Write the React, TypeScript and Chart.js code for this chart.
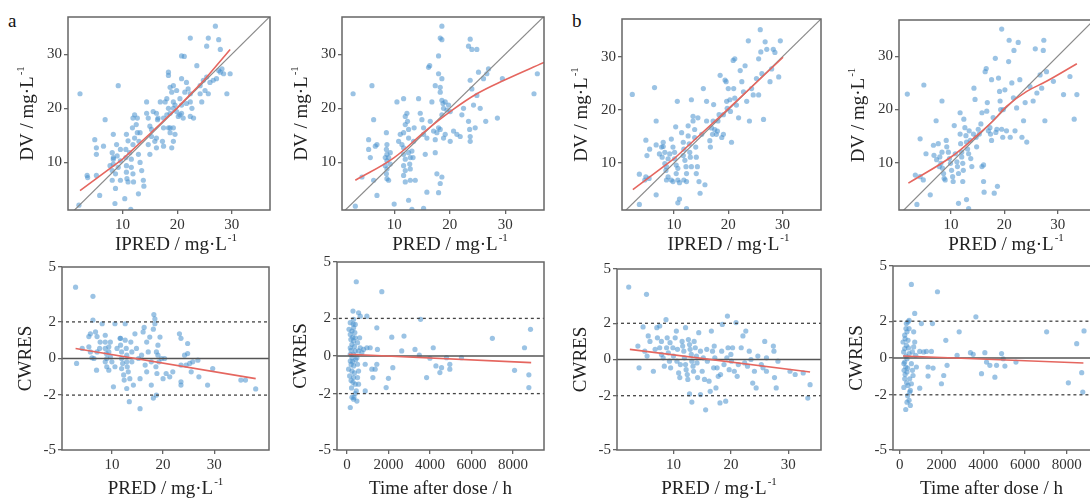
import React, { useEffect, useRef } from "react";
import { Chart, registerables } from "chart.js";
Chart.register(...registerables);

type P = [number, number];

// ---------- data ----------
const a1Pts: P[] = [
  [2.2,22.7],[2.0,2.1],[3.5,7.6],[3.6,7.2],[5.2,7.6],[5.8,3.9],[4.9,14.2],[5.2,12.7],[5.2,11.5],[6.8,17.9],[6.5,13.0],[7.7,9.4],[8.3,10.6],[9.2,24.2],[8.3,15.2],
  [8.1,11.8],[8.3,10.9],[8.3,9.7],[8.1,8.5],[8.7,7.9],[8.1,6.7],[8.7,5.2],[9.6,6.7],[9.2,9.1],[9.6,10.3],[9.0,11.2],[8.9,13.3],[9.6,12.4],[8.6,2.4],[10.4,3.3],
  [10.7,15.2],[11.0,14.0],[10.6,12.4],[10.6,10.9],[10.7,9.4],[10.7,8.2],[10.8,7.0],[11.0,6.4],[11.3,11.8],[11.6,10.6],[11.6,9.1],[11.9,7.9],[12.0,6.4],[11.9,13.3],[12.2,14.5],[11.8,16.4],[11.9,18.2],[12.2,18.8],[12.5,17.0],[12.7,15.5],[13.0,13.9],[12.9,11.5],[13.2,10.0],[13.5,8.5],[13.8,6.7],[12.7,18.2],[13.2,15.5],[11.5,1.3],[12.9,4.2],[13.9,5.6],
  [14.4,21.2],[14.4,19.1],[14.7,18.2],[15.0,16.7],[15.3,16.1],[15.3,14.8],[14.7,13.3],[15.0,11.5],[15.9,13.9],[16.2,14.5],[16.2,12.7],[16.2,19.1],[16.4,17.9],[15.6,19.4],[16.5,18.2],[16.9,21.2],[17.5,16.4],[17.5,18.2],[18.1,18.8],[18.4,20.0],[18.4,16.4],[18.7,16.4],[18.7,15.5],[19.3,16.4],[19.6,15.2],[19.3,13.9],[19.0,12.7],[17.3,13.9],[17.5,13.0],[18.1,21.8],[17.8,21.2],[18.4,26.7],[18.4,26.1],[19.3,24.2],[18.7,23.9],[19.9,23.3],[19.0,23.0],[19.3,21.2],[19.3,20.0],[19.9,19.4],[19.6,20.6],[20.2,18.5],[18.7,19.1],
  [20.5,18.8],[20.8,20.6],[20.5,21.8],[20.8,25.5],[20.8,29.7],[21.3,29.6],[21.7,24.8],[22.0,23.6],[22.4,22.7],[22.4,21.2],[22.7,20.0],[22.4,18.5],[23.0,18.2],[21.4,23.0],[21.7,20.9],[20.8,19.1],[24.2,24.2],[24.8,25.2],[25.4,25.8],[24.2,22.7],[24.5,21.2],[22.4,33.0],[23.6,27.9],[26.0,24.8],[25.1,23.3],[27.2,25.5],[26.6,25.2],[25.7,33.0],[25.4,31.5],[27.6,32.7],[27.9,30.9],[27.9,26.7],[28.2,27.3],[28.5,26.4],[27.6,27.0],[29.7,26.4],[27.0,35.2],[25.7,22.7],[29.1,22.7],[21.1,18.2]
];
const a1Red: P[] = [[2.2,4.8],[10,10.6],[15,15.3],[20,20.1],[25,25.3],[29.7,30.9]];

const a2Pts: P[] = [
  [2.6,22.7],[3.0,1.9],[4.2,7.3],[5.4,14.2],[5.4,12.4],[5.7,10.9],[6.0,24.2],[6.3,17.9],[6.6,13.0],[6.9,13.3],[6.9,3.9],[6.3,6.7],
  [8.6,15.5],[8.7,13.3],[8.6,12.4],[8.7,11.5],[8.4,10.9],[8.7,10.3],[8.4,9.4],[8.7,8.8],[8.6,7.9],[8.7,7.0],[9.0,6.7],[9.0,10.9],[9.3,11.8],[9.3,9.7],
  [10.0,2.3],[10.5,21.2],[10.8,13.9],[11.1,15.2],[11.4,13.3],
  [11.7,21.8],[12.0,18.5],[12.0,17.0],[11.7,15.5],[11.7,12.7],[11.7,11.5],[12.0,10.6],[11.7,9.4],[12.0,8.5],[11.7,7.6],[12.0,6.4],[12.3,19.1],[12.4,17.6],[12.6,16.1],[12.6,14.5],[12.6,11.8],[12.9,10.9],[12.8,9.7],[12.9,8.8],[12.9,6.7],[13.2,12.1],[13.4,10.9],[13.5,13.9],[13.6,16.4],[13.8,6.7],[12.6,3.0],[13.2,1.3],[15.3,1.5],
  [14.4,21.8],[14.7,19.1],[15.0,17.9],[15.3,15.2],[15.6,11.5],[15.3,16.4],[15.9,14.5],[15.9,4.5],[16.2,27.6],[16.4,27.9],[16.5,17.6],[16.8,21.2],[17.1,15.8],[17.4,14.2],[17.4,11.8],[17.7,7.9],[18.0,4.4],[17.4,24.2],
  [18.0,29.7],[18.3,33.0],[18.6,32.7],[18.6,35.2],[18.0,26.4],[18.6,25.5],[18.3,23.9],[18.3,23.0],[18.0,16.4],[17.7,15.5],[18.3,16.1],[18.6,21.5],[18.8,20.9],[18.9,20.0],[18.6,18.8],[18.3,6.1],[18.6,7.3],[18.9,14.5],[19.2,15.2],[19.5,19.7],[19.8,20.6],[20.1,19.4],[19.2,21.2],[20.1,13.9],
  [20.7,15.8],[21.3,15.2],[21.9,14.8],[22.2,18.8],[22.5,20.0],
  [23.4,17.6],[23.6,16.1],[23.7,14.8],[23.7,13.9],[24.0,23.6],[23.7,25.2],[23.4,31.5],[23.7,32.8],[24.0,30.9],[24.9,30.9],[24.3,20.6],[24.9,22.4],[25.2,26.7],[24.6,16.4],[25.5,20.0],[26.1,25.5],[26.7,26.4],[26.5,17.6],[27.0,27.3],[28.6,18.2],[29.5,25.5],[35.2,22.7],[35.8,26.4]
];
const a2Red: P[] = [[3.0,6.7],[10,10.9],[15.6,15.8],[20.1,19.4],[24.9,22.7],[29.8,25.2],[37,28.5]];

const a3Pts: P[] = [
  [2.9,3.9],[3.1,-0.27],[4.2,0.55],[5.5,0.64],[5.5,1.2],[5.8,1.35],[6.3,3.4],[6.3,2.1],[6.8,1.45],[7.1,1.2],[5.8,0.36],[6.5,0],[7.0,-0.64],[6.1,0.04],[7.1,0.36],[7.7,0.9],[8.1,1.9],[7.6,0.55],
  [8.7,1.27],[8.7,0.9],[8.7,0.55],[8.9,0.27],[9.0,0],[8.7,-0.18],[9.0,-0.45],[9.4,0.64],[9.4,0.36],[9.7,0.9],[9.7,0.09],[10,-0.18],[9.4,-0.64],[10.3,-1.55],[10.6,1.9],[11,0.55],[10.6,-0.45],
  [11.6,1.1],[11.7,0.73],[11.9,0.36],[11.9,0],[12.1,-0.27],[11.9,-0.55],[12.3,-0.9],[12.4,-1.18],[11.7,1.1],[12.6,1.0],[12.8,0.55],[12.9,0.18],[12.9,-0.18],[13.0,-0.45],[13.2,-0.73],[12.6,1.9],[12.9,-1.64],[13.4,-2.36],[13.5,-1.1],[13.9,0.36],[13.9,-0.18],[13.7,0.9],[14.2,-1.45],
  [14.5,1.35],[14.8,0.55],[15.2,0],[15.5,-1.1],[15.5,-2.74],[15.8,0.18],[16.1,1.45],[16.3,1.7],[16.8,0.9],[16.5,-0.36],[16.8,-0.73],[17.1,0.36],[17.4,1.17],[17.7,-0.18],[17.7,-1.45],[18.1,-2.16],[18.1,1.6],[18.2,2.4],[18.4,2.16],[18.4,1.9],[18.6,-0.45],[18.7,0.36],[18.8,-0.82],[19.0,0.18],[19.0,0.73],[18.7,-2.0],[19.2,-0.18],[19.4,1.17],[19.7,0],[20,-1.1],[20.3,0],[20.6,-0.82],[21.3,-1.0],[21.9,-0.73],
  [23.2,1.35],[23.5,1.1],[23.5,-0.36],[23.5,-1.27],[23.5,-1.45],[24.2,0.18],[24.5,-0.36],[24.8,0.82],[24.8,0.27],[25.2,-0.27],[25.5,-0.73],[25.8,-0.18],[26.8,-0.09],[27.0,-1.0],[28.7,-1.45],[29.7,-0.55],[35.2,-1.18],[36.1,-1.18],[38.1,-1.66]
];
const a3Red: P[] = [[2.9,0.55],[38.1,-1.1]];

const a4Pts: P[] = [
  [160,-2.74],[240,-2.2],[320,-2.3],[400,-2.0],[480,-2.4],[290,-1.4],[400,-1.5],[320,-1.15],[240,-0.8],[320,-0.53],[160,-0.27],[240,-0.09],[320,0.09],[400,0.27],[160,0.44],[240,0.62],[320,0.8],[400,0.97],[160,1.15],[240,1.33],[320,1.5],[400,1.68],[160,1.77],[320,1.95],[290,2.39],[450,3.95],[560,2.3],[640,2.12],[480,-0.09],[510,-0.44],[560,0.27],[510,0.71],[610,0.97],[640,0.44],[720,0.18],[560,-0.8],[510,-1.15],[560,-1.5],[450,-1.86],[80,-0.7],[130,-1.06],[160,0.09],[190,0.88],[100,1.42],
  [200,-0.45],[280,-0.3],[360,0.5],[200,0.3],[280,1.0],[360,-0.9],[420,-0.2],[200,-1.3],[300,1.7],[380,1.25],[220,-1.7],[340,-2.2],
  [800,0.35],[880,-0.44],[960,2.12],[960,0.44],[880,-1.86],[1120,0.44],[1200,-0.7],[1250,-1.15],[1360,-0.7],[1440,1.5],[1470,0.35],[1440,-0.44],[1680,3.42],[1890,-1.68],[2000,-1.19],[2160,1.0],[2210,-0.62],[2640,0.27],[2750,1.06],[3280,0.35],[3490,0.05],[3550,1.95],[3840,-1.15],[4000,-0.12],[4160,0.44],[4290,-0.53],[4480,-0.88],[4560,-0.62],[4800,-0.09],[4960,-0.44],[4960,-0.7],[5520,-0.09],[7010,0.94],[8080,-0.76],[8560,0.44],[8770,-1.0],[8770,-1.68],[8850,1.42]
];
const a4Red: P[] = [[80,0.09],[8880,-0.35]];

const b1Pts: P[] = [
  [2.3,22.9],[3.6,2.2],[3.6,7.9],[4.8,7.4],[4.6,6.8],[5.4,7.1],[4.8,14.3],[5.5,12.6],[5.0,11.4],[6.4,24.2],[6.7,4.0],[6.7,13.4],[6.7,17.9],[7.3,11.7],[7.7,13.0],[7.8,11.1],
  [8.0,13.9],[8.0,13.1],[8.3,12.0],[8.3,9.9],[8.6,9.3],[8.5,8.6],[8.9,10.8],[9.2,11.7],[8.9,7.4],[8.6,6.8],[9.5,6.8],[9.8,6.5],[9.8,13.0],[10.1,12.0],[10.1,10.8],[10.4,9.6],[10.7,9.0],[10.4,8.0],[10.7,6.8],[11.0,6.3],[10.7,2.5],[11.0,3.2],[10.6,21.6],[10.3,16.8],[9.5,14.5],
  [11.4,15.7],[11.7,13.9],[11.8,12.6],[11.7,11.4],[12.0,10.5],[12.2,9.3],[12.3,8.0],[11.8,6.8],[12.3,6.5],[12.6,17.0],[12.6,15.1],[12.8,13.6],[12.9,12.0],[13.0,11.1],[13.2,9.3],[13.2,21.9],[13.5,18.8],[13.5,17.9],[13.8,16.3],[13.8,14.8],[14.0,13.0],[14.1,11.1],[14.3,9.3],[14.1,8.0],[14.6,6.5],[14.8,4.3],[12.3,1.4],[14.4,18.5],
  [15.1,15.4],[15.4,24.0],[15.7,5.9],[16.0,17.9],[16.0,21.6],[16.6,14.2],[16.7,13.0],[16.9,16.6],[17.1,15.4],[17.2,17.9],[17.3,21.0],[17.5,16.3],[17.8,15.4],[18.0,16.0],[18.1,17.9],[18.3,19.1],[18.5,26.5],[18.8,14.8],[19.1,15.4],[19.1,19.1],[19.4,25.6],[19.6,25.3],[19.7,21.6],[19.8,20.3],[20.0,24.0],[20.3,21.9],[20.4,19.7],[20.6,13.9],[20.9,29.3],[21.2,29.6],[21.0,24.0],[21.2,22.2],[21.5,20.9],[21.9,18.5],[22.2,27.4],[22.5,25.3],[22.8,23.4],[23.1,28.3],[23.4,21.6],[23.7,33.0],[23.9,17.9],[24.3,24.0],[24.6,22.8],[25.2,25.9],[25.6,29.6],[25.9,35.1],[26.0,30.9],[26.2,26.8],[26.5,18.2],[26.8,32.8],[27.1,31.4],[27.7,25.3],[28.0,27.7],[28.3,31.4],[28.6,30.8],[29.3,26.2],[29.6,33.0],[25.6,22.8]
];
const b1Red: P[] = [[2.4,5.0],[10,10.8],[20,20.2],[30.1,29.9]];

const b2Pts: P[] = [
  [1.8,22.9],[3.6,2.2],[3.3,7.7],[4.2,7.4],[4.8,6.8],[4.2,14.5],[5.3,11.7],[4.9,24.6],[6.1,4.0],[6.7,13.3],[7.2,17.9],[6.8,11.4],[7.3,10.6],[7.6,13.6],[7.8,9.3],
  [7.9,11.1],[8.1,9.9],[8.3,12.0],[8.4,9.0],[8.6,8.0],[8.7,7.1],[8.9,6.8],[8.3,21.6],[9.1,14.2],[9.2,13.0],[9.5,12.0],[9.7,10.8],[9.9,9.9],[10.1,8.6],[10.3,7.4],[10.4,6.5],[10.6,17.0],[10.8,11.7],[11.1,10.2],[11.2,9.3],[11.4,8.0],[11.4,2.4],[11.7,19.4],[11.7,15.4],[11.8,13.6],[12.0,12.0],[12.0,11.1],[12.2,9.9],[12.3,8.6],[12.2,6.5],[12.4,18.2],[12.6,16.6],[12.8,15.1],[12.9,13.9],[13.1,12.6],[13.3,11.7],[12.9,3.1],[13.3,1.4],[13.4,16.0],[13.6,14.2],[13.7,10.8],[13.9,9.3],
  [14.2,15.4],[14.3,24.0],[14.5,21.9],[14.7,14.8],[14.8,13.0],[15.1,16.3],[15.3,15.4],[15.6,17.3],[15.8,19.4],[15.8,9.3],[16.1,6.5],[16.2,4.5],[16.1,9.6],[16.4,27.1],[16.6,27.7],[16.7,19.7],[16.8,21.3],[17.0,16.0],[17.3,16.6],[17.4,15.4],[17.6,14.2],[17.6,25.6],[17.9,18.5],[18.1,4.3],[18.3,29.6],[18.4,15.7],[18.6,16.3],[18.7,5.6],[18.9,25.9],[19.1,23.4],[19.2,21.6],[19.3,20.0],[19.5,35.1],[19.5,16.3],[19.7,14.8],[19.8,20.0],[20.1,23.7],[20.4,16.0],[20.8,29.0],[20.9,33.0],[21.1,14.8],[21.4,25.0],[21.7,22.2],[21.8,31.1],[22.0,16.0],[22.3,20.3],[22.6,32.6],[22.9,25.6],[23.3,14.8],[23.6,17.9],[23.9,21.3],[24.2,13.9],[24.8,24.3],[25.4,21.6],[25.8,31.4],[26.1,23.1],[26.7,26.5],[27.0,24.0],[27.3,31.1],[27.4,33.0],[27.6,17.9],[27.9,27.1],[29.2,25.3],[31.1,22.8],[32.3,26.2],[33.1,18.2],[33.6,22.8]
];
const b2Red: P[] = [[2.0,6.2],[10,11.1],[14.8,15.1],[17.9,17.9],[20.4,20.6],[24.2,23.4],[27.9,25.3],[33.6,28.6]];

const b3Pts: P[] = [
  [2.2,4.0],[4.0,-0.46],[3.8,0.74],[4.7,1.8],[5.0,0.46],[5.3,3.6],[5.4,0.19],[5.6,1.3],[5.9,1.0],[6.5,-0.65],[6.8,0.56],[7.1,1.76],[7.2,1.2],[7.6,1.85],[7.6,0.65],[7.9,1.0],[7.9,0.28],[8.2,0.09],[8.4,-0.37],[8.7,2.2],[8.8,0.65],[8.9,1.2],[9.1,0.37],[9.3,-0.09],[9.4,0.93],[9.5,-0.46],[9.9,0.65],[10,0.19],[10.3,1.2],[10.5,1.57],[10.6,-0.09],[10.7,0.56],[10.9,-0.74],[11.1,-1.0],[11.2,-0.28],
  [11.5,1.0],[11.6,0.74],[11.8,0.46],[11.9,0.09],[12.1,-0.28],[12.2,-0.56],[12.4,-0.83],[12.5,-1.1],[12.1,1.76],[12.6,1.1],[12.8,0.83],[12.9,0.56],[13.1,0.28],[13.2,-0.09],[13.4,-0.37],[13.5,-0.65],[12.8,-1.9],[13.2,-2.35],[13.6,1.0],[13.8,0.65],[14.0,0.19],[14.1,-0.19],[14.2,-1.0],[14.4,1.48],[14.7,0.46],[14.7,-1.94],[15.0,-0.65],[15.2,0.09],[15.4,-1.1],[15.6,-2.78],[15.8,0.56],[15.9,-0.09],[16.2,-1.2],[16.4,-1.76],[16.6,1.57],[16.8,0.46],[17.0,-0.46],[17.1,0.74],[17.2,0.09],[17.4,-1.57],[17.6,-0.46],[17.8,-0.93],[18.1,-2.4],[18.2,-0.83],[18.4,0.46],[18.5,1.94],[18.8,-0.28],[19.1,-2.3],[19.3,0.09],[19.4,2.4],[19.5,0.65],[19.7,-0.56],[20.0,0.28],[20.1,-0.09],[20.3,0.65],[20.6,-0.65],[20.9,2.04],[21.1,-0.93],[21.3,-0.28],
  [21.8,0.65],[22.1,1.3],[22.4,-0.19],[22.6,1.57],[22.9,-0.37],[23.2,0.46],[23.5,0],[23.8,-1.3],[24.1,-0.65],[24.4,-1.57],[24.7,0.19],[25.3,-0.28],[25.6,-0.46],[25.9,1.0],[26.2,0.09],[26.2,-0.65],[27.4,0.74],[27.5,0.46],[27.6,-1.0],[27.9,-1.57],[28.2,-0.09],[30.3,-0.65],[31.2,-0.83],[32.6,-0.74],[33.4,-2.13],[33.8,-1.39]
];
const b3Red: P[] = [[2.4,0.56],[33.8,-0.69]];

const b4Pts: P[] = [
  [290,-2.8],[350,-2.4],[450,-2.3],[510,-2.58],[480,-1.85],[400,-1.49],[240,-1.13],[350,-0.76],[290,-0.49],[240,-0.22],[350,-0.04],[450,0.24],[240,0.51],[320,0.69],[400,0.96],[240,1.24],[350,1.42],[450,1.6],[320,1.87],[450,2.05],[560,4.0],[720,2.42],[560,-0.31],[610,-0.67],[640,-0.95],[610,0.33],[670,0.6],[720,0.87],[770,0.15],[800,-0.49],[510,-1.76],[560,-1.4],[190,0.33],[160,0.87],[210,-0.67],[480,-1.13],[670,1.42],[400,1.96],
  [200,-0.3],[300,0.1],[380,-0.55],[260,1.05],[330,-1.35],[420,0.55],[200,-1.6],[300,1.6],[380,-2.05],[260,-0.9],
  [960,0.36],[1040,1.87],[960,-1.64],[1150,0.33],[1280,0.36],[1360,-0.49],[1360,-0.98],[1520,0.36],[1570,1.87],[1600,-0.55],[1810,3.6],[2000,-1.4],[2110,-0.95],[2210,0.96],[2270,-0.4],[2750,0.15],[2850,1.42],[3390,0.29],[3520,0.2],[3650,2.24],[3920,-0.85],[4080,0.29],[4160,-0.22],[4320,-0.4],[4560,-1.04],[4640,-0.4],[4880,0.24],[4960,-0.04],[5040,-0.44],[5570,-0.22],[7040,1.42],[8080,-1.35],[8480,0.78],[8720,-0.8],[8770,-1.85],[8830,1.47]
];
const b4Red: P[] = [[160,0.11],[8800,-0.27]];

const concTicks = [10, 20, 30];
const resTicks = [-5, -2, 0, 2, 5];
const timeTicks = [0, 2000, 4000, 6000, 8000];

// ---------- drawing ----------
const FONT = "'Liberation Serif', 'Times New Roman', serif";
const PAD_L = 60, PAD_T = 8, PAD_R = 8, PAD_B = 50;

function drawTitle(ctx: CanvasRenderingContext2D, text: string, sup: string, cx: number, cy: number, rot: boolean) {
  ctx.save();
  ctx.translate(cx, cy);
  if (rot) ctx.rotate(-Math.PI / 2);
  ctx.font = `19px ${FONT}`;
  const w1 = ctx.measureText(text).width;
  ctx.font = `11px ${FONT}`;
  const w2 = sup ? ctx.measureText(sup).width + 1 : 0;
  const x0 = -(w1 + w2) / 2;
  ctx.textBaseline = "middle";
  ctx.textAlign = "left";
  ctx.fillStyle = "#222";
  ctx.font = `19px ${FONT}`;
  ctx.fillText(text, x0, 0);
  if (sup) {
    ctx.font = `11px ${FONT}`;
    ctx.fillText(sup, x0 + w1 + 1, -7);
  }
  ctx.restore();
}

const framePlugin = {
  id: "frame",
  afterDatasetsDraw(chart: any, _a: any, o: any) {
    const { ctx, chartArea: a } = chart;
    ctx.save();
    ctx.strokeStyle = "#666";
    ctx.lineWidth = 1.5;
    ctx.strokeRect(a.left, a.top, a.right - a.left, a.bottom - a.top);
    ctx.restore();
    drawTitle(ctx, o.xTitle, o.xSup, (a.left + a.right) / 2 + o.xDx, a.bottom + o.xDy, false);
    drawTitle(ctx, o.yTitle, o.ySup, a.left - o.yDx, (a.top + a.bottom) / 2, true);
  },
};

type PanelProps = {
  box: [number, number, number, number];
  xr: [number, number];
  yr: [number, number];
  xt: number[];
  yt: number[];
  pts: P[];
  red: P[];
  curve: boolean;
  res: boolean;
  xTitle: string;
  xSup: string;
  yTitle: string;
  ySup: string;
  xDx: number;
  xDy: number;
  yDx: number;
};

function axis(min: number, max: number, ticks: number[], isX: boolean) {
  return {
    type: "linear",
    min,
    max,
    afterBuildTicks: (s: any) => {
      s.ticks = ticks.map((v) => ({ value: v }));
    },
    afterFit: (s: any) => {
      if (isX) s.height = PAD_B;
      else s.width = PAD_L;
    },
    grid: { display: true, drawOnChartArea: false, drawTicks: true, tickLength: 4, color: "#666", lineWidth: 1.3 },
    border: { display: false },
    ticks: {
      font: { family: FONT, size: 15 },
      color: "#333",
      padding: 2,
      maxRotation: 0,
      autoSkip: false,
      callback: (v: any) => String(v),
    },
  };
}

function Panel(p: PanelProps) {
  const ref = useRef<HTMLCanvasElement>(null);
  const [l, t, r, b] = p.box;
  const w = r - l + PAD_L + PAD_R;
  const h = b - t + PAD_T + PAD_B;
  useEffect(() => {
    if (!ref.current) return;
    const ds: any[] = [
      {
        data: p.pts.map(([x, y]) => ({ x, y })),
        backgroundColor: "rgba(72,145,205,0.55)",
        pointRadius: 2.6,
        pointBorderWidth: 0,
        order: 3,
      },
      {
        data: p.red.map(([x, y]) => ({ x, y })),
        showLine: true,
        borderColor: "#e5665f",
        borderWidth: 1.6,
        pointRadius: 0,
        tension: p.curve ? 0.4 : 0,
        order: 1,
      },
    ];
    if (p.res) {
      const lo = p.xr[0] - 100000, hi = p.xr[1] + 100000;
      ds.push({ data: [{ x: lo, y: 0 }, { x: hi, y: 0 }], showLine: true, borderColor: "#555", borderWidth: 1.3, pointRadius: 0, order: 2 });
      ds.push({ data: [{ x: lo, y: 2 }, { x: hi, y: 2 }], showLine: true, borderColor: "#444", borderWidth: 1.3, borderDash: [3, 3], pointRadius: 0, order: 2 });
      ds.push({ data: [{ x: lo, y: -2 }, { x: hi, y: -2 }], showLine: true, borderColor: "#444", borderWidth: 1.3, borderDash: [3, 3], pointRadius: 0, order: 2 });
    } else {
      ds.push({ data: [{ x: -20, y: -20 }, { x: 60, y: 60 }], showLine: true, borderColor: "#8a8a8a", borderWidth: 1.2, pointRadius: 0, order: 2 });
    }
    const chart = new Chart(ref.current, {
      type: "scatter",
      data: { datasets: ds },
      options: {
        responsive: false,
        animation: false,
        events: [],
        devicePixelRatio: 1,
        layout: { padding: { left: 0, top: PAD_T, right: PAD_R, bottom: 0 } },
        plugins: {
          legend: { display: false },
          tooltip: { enabled: false },
          frame: { xTitle: p.xTitle, xSup: p.xSup, yTitle: p.yTitle, ySup: p.ySup, xDx: p.xDx, xDy: p.xDy, yDx: p.yDx },
        } as any,
        scales: {
          x: axis(p.xr[0], p.xr[1], p.xt, true) as any,
          y: axis(p.yr[0], p.yr[1], p.yt, false) as any,
        },
      },
      plugins: [framePlugin as any],
    });
    return () => chart.destroy();
  }, []);
  return (
    <canvas
      ref={ref}
      width={w}
      height={h}
      style={{ position: "absolute", left: l - PAD_L, top: t - PAD_T, width: w, height: h }}
    />
  );
}

const dvY = { yTitle: "DV / mg·L", ySup: "-1", yDx: 40 };
const resY = { yTitle: "CWRES", ySup: "", yDx: 36 };

export default function App() {
  return (
    <div style={{ position: "absolute", left: 0, top: 0, width: 1090, height: 499, overflow: "hidden", background: "#fff" }}>
      <div style={{ position: "absolute", left: 8, top: 11, font: `19px/19px ${FONT}`, color: "#111" }}>a</div>
      <div style={{ position: "absolute", left: 572, top: 11, font: `19px/19px ${FONT}`, color: "#111" }}>b</div>
      <Panel box={[68, 14, 270, 210]} xr={[0, 37]} yr={[1.2, 36.9]} xt={concTicks} yt={concTicks} pts={a1Pts} red={a1Red} curve={false} res={false}
        xTitle="IPRED / mg·L" xSup="-1" xDx={7} xDy={35.5} {...dvY} />
      <Panel box={[342, 14, 544, 210]} xr={[0.6, 37]} yr={[1.2, 36.9]} xt={concTicks} yt={concTicks} pts={a2Pts} red={a2Red} curve={true} res={false}
        xTitle="PRED / mg·L" xSup="-1" xDx={7} xDy={35.5} {...dvY} />
      <Panel box={[622, 16, 821, 210]} xr={[0.4, 37.1]} yr={[1.15, 37.1]} xt={concTicks} yt={concTicks} pts={b1Pts} red={b1Red} curve={false} res={false}
        xTitle="IPRED / mg·L" xSup="-1" xDx={7} xDy={35.5} {...dvY} />
      <Panel box={[899, 17, 1095, 210]} xr={[0.24, 37]} yr={[1.15, 36.8]} xt={concTicks} yt={concTicks} pts={b2Pts} red={b2Red} curve={true} res={false}
        xTitle="PRED / mg·L" xSup="-1" xDx={9} xDy={35.5} {...dvY} />
      <Panel box={[62, 264, 269, 450]} xr={[0.25, 40.7]} yr={[-5, 5]} xt={concTicks} yt={resTicks} pts={a3Pts} red={a3Red} curve={false} res={true}
        xTitle="PRED / mg·L" xSup="-1" xDx={0} xDy={39} {...resY} />
      <Panel box={[337, 259, 544, 450]} xr={[-480, 9500]} yr={[-5, 5]} xt={timeTicks} yt={resTicks} pts={a4Pts} red={a4Red} curve={false} res={true}
        xTitle="Time after dose / h" xSup="" xDx={0} xDy={39} {...resY} />
      <Panel box={[617, 266, 821, 450]} xr={[0.16, 35.7]} yr={[-5, 5]} xt={concTicks} yt={resTicks} pts={b3Pts} red={b3Red} curve={false} res={true}
        xTitle="PRED / mg·L" xSup="-1" xDx={0} xDy={39} {...resY} />
      <Panel box={[893, 263, 1098, 450]} xr={[-320, 9500]} yr={[-5, 5]} xt={timeTicks} yt={resTicks} pts={b4Pts} red={b4Red} curve={false} res={true}
        xTitle="Time after dose / h" xSup="" xDx={-4} xDy={39} {...resY} />
    </div>
  );
}
